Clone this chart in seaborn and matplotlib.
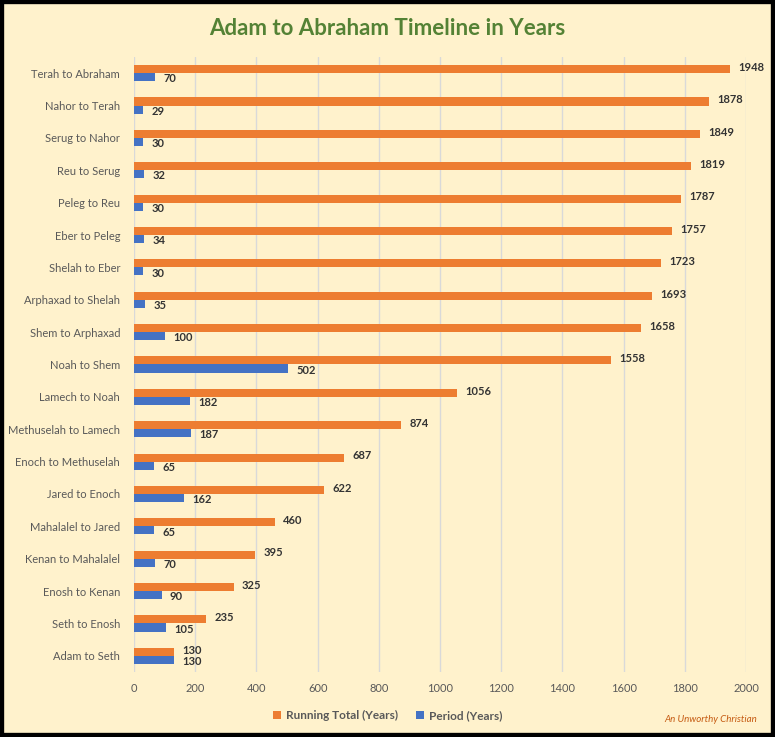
import matplotlib
matplotlib.use("Agg")
import matplotlib.pyplot as plt
import seaborn as sns
import pandas as pd
from matplotlib.patches import Rectangle

categories = ["Terah to Abraham", "Nahor to Terah", "Serug to Nahor", "Reu to Serug",
              "Peleg to Reu", "Eber to Peleg", "Shelah to Eber", "Arphaxad to Shelah",
              "Shem to Arphaxad", "Noah to Shem", "Lamech to Noah", "Methuselah to Lamech",
              "Enoch to Methuselah", "Jared to Enoch", "Mahalalel to Jared",
              "Kenan to Mahalalel", "Enosh to Kenan", "Seth to Enosh", "Adam to Seth"]
running_total = [1948, 1878, 1849, 1819, 1787, 1757, 1723, 1693, 1658, 1558, 1056, 874,
                 687, 622, 460, 395, 325, 235, 130]
period = [70, 29, 30, 32, 30, 34, 30, 35, 100, 502, 182, 187, 65, 162, 65, 70, 90, 105, 130]
series_names = ["Running Total (Years)", "Period (Years)"]
x_ticks = [0, 200, 400, 600, 800, 1000, 1200, 1400, 1600, 1800, 2000]

df = pd.DataFrame({
    "label": categories * 2,
    "value": running_total + period,
    "series": [series_names[0]] * len(categories) + [series_names[1]] * len(categories),
})

sns.set_theme(style="white")
plt.rcParams["font.family"] = ["Lato", "DejaVu Sans"]

bg = "#FFF2CC"
fig = plt.figure(figsize=(7.75, 7.37), dpi=100)
fig.patch.set_facecolor(bg)
ax = fig.add_axes([0.173, 0.0882, 0.7896, 0.8345])
ax.set_facecolor(bg)

sns.barplot(data=df, x="value", y="label", hue="series", order=categories,
            hue_order=series_names, palette=["#ED7D31", "#4472C4"], orient="h",
            width=0.5, saturation=1, linewidth=0, ax=ax, legend=True)

offsets = [1.2, -1.2]
for c, dy in zip(ax.containers, offsets):
    anns = ax.bar_label(c, padding=6, fontsize=8, fontweight="bold", color="#333333")
    for a in anns:
        a.xyann = (6, dy)

ax.set_xlim(0, 2000)
ax.set_xticks(x_ticks)
ax.set_xticklabels([str(t) for t in x_ticks])
ax.xaxis.grid(True, color="#D9D9D9", linewidth=1)
ax.set_axisbelow(True)
for s in ax.spines.values():
    s.set_visible(False)
ax.tick_params(axis="both", length=0, labelsize=8, labelcolor="#595959")
ax.tick_params(axis="x", pad=8)
ax.tick_params(axis="y", pad=10)
ax.set_xlabel("")
ax.set_ylabel("")

leg = ax.legend(loc="center", bbox_to_anchor=(0.5, 0.0295), bbox_transform=fig.transFigure,
                ncol=2, frameon=False, fontsize=8.5, handlelength=0.7, handleheight=0.7,
                handletextpad=0.4, columnspacing=1.5)
for t in leg.get_texts():
    t.set_color("#595959")
    t.set_fontweight("bold")

fig.text(0.5, 0.962, "Adam to Abraham Timeline in Years", ha="center", va="center",
         fontsize=16, fontweight="bold", color="#548235")
fig.text(0.977, 0.024, "An Unworthy Christian", ha="right", va="center", fontsize=7,
         style="italic", color="#C55A11")

fig.add_artist(Rectangle((0, 0), 1, 1, transform=fig.transFigure, fill=False,
                         edgecolor="black", linewidth=6, zorder=10))

fig.savefig("out.png", dpi=100, facecolor=bg)
